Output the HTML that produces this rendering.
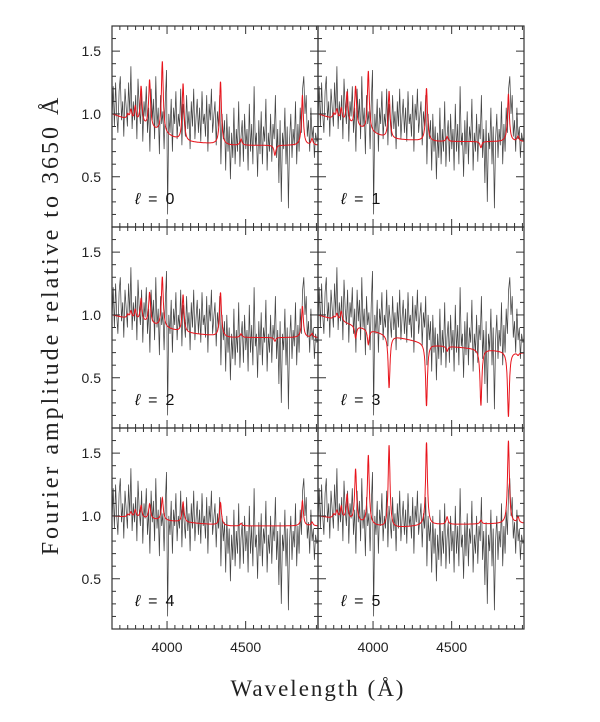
<!DOCTYPE html>
<html><head><meta charset="utf-8"><style>
body{margin:0;background:#fff}
svg text{font-family:"Liberation Sans",sans-serif}
</style></head><body>
<svg id="chart" width="600" height="717" viewBox="0 0 600 717" xmlns="http://www.w3.org/2000/svg">
<text x="0" y="0" transform="translate(58,325) rotate(-90)" text-anchor="middle" style="font-family:'Liberation Serif','DejaVu Serif',serif;font-size:24px;letter-spacing:3px" fill="#222">Fourier amplitude relative to 3650 Å</text>
<text x="318" y="696" text-anchor="middle" style="font-family:'Liberation Serif','DejaVu Serif',serif;font-size:23px;letter-spacing:2px" fill="#222">Wavelength (Å)</text>
<g id="plots"></g>
</svg>
<script>
const spectrum=[0.95,1.22,0.9,1.25,1.0,0.85,1.18,1.3,0.95,1.1,0.82,1.2,1.05,0.9,1.25,1.0,1.38,0.88,1.1,0.95,1.15,0.8,1.28,1.05,0.92,1.2,0.78,1.1,0.98,1.22,0.85,1.05,0.7,1.2,
0.95,1.12,0.8,1.3,0.9,1.05,0.68,1.15,0.92,1.02,0.72,1.1,1.35,0.2,
1.0,0.85,1.12,0.7,1.05,0.92,1.18,0.8,1.0,0.9,1.2,0.75,1.08,0.95,0.82,1.15,0.88,1.02,0.72,1.1,0.9,1.2,0.8,0.98,1.12,0.85,1.05,0.78,1.18,0.92,1.0,0.82,1.15,0.7,1.08,0.95,1.2,0.85,0.98,1.1,0.75,1.02,0.9,1.15,0.6,1.0,
0.8,0.95,0.55,1.0,0.7,0.9,0.48,0.85,0.65,1.05,0.6,0.88,0.7,1.1,0.58,0.82,0.95,0.62,1.0,0.72,0.88,0.55,1.08,0.7,0.92,0.6,1.22,0.75,0.85,0.5,0.95,0.68,1.02,0.6,0.9,0.78,1.12,0.55,0.85,0.7,1.0,0.62,0.92,0.8,1.15,0.65,0.88,0.45,0.95,0.3,0.85,0.72,1.05,0.6,0.9,0.25,0.8,1.0,0.65,0.88,0.75,1.1,0.6,0.92,0.7,1.05,0.85,
1.2,1.3,1.0,1.15,0.82,0.95,0.7,1.05,0.8,0.9,0.65,0.85,0.78,0.82];
const lineCenters=[3750,3770,3798,3835,3889,3970,4102,4340,4471,4686,4861,4922];
const baseL0=[1.0,0.78,0.75,0.75];
const ampL0=[0.04,0.08,0.12,0.3,0.38,0.57,0.46,0.5,0.05,-0.08,0.4,0.05];
const baseL1=[1.0,0.8,0.78,0.78];
const ampL1=[0.04,0.08,0.1,0.25,0.32,0.48,0.38,0.42,0.04,-0.05,0.38,0.04];
const baseL2=[1.0,0.86,0.82,0.82];
const ampL2=[0.03,0.06,0.08,0.18,0.25,0.4,0.3,0.35,0.03,-0.03,0.25,0.03];
const baseL3=[1.0,0.84,0.76,0.7];
const ampL3=[0.02,0.05,0.08,0.0,-0.1,-0.12,-0.42,-0.5,-0.04,-0.45,-0.52,-0.02];
const baseL4=[1.0,0.95,0.92,0.92];
const ampL4=[0.02,0.04,0.06,0.1,0.12,0.18,0.16,0.18,0.02,0.0,0.2,0.03];
const baseL5=[1.0,0.9,0.93,0.94];
const ampL5=[0.03,0.06,0.1,0.2,0.42,0.55,0.66,0.66,0.06,0.03,0.66,0.05];
const panelLabels=["0","1","2","3","4","5"];
const yTicks=[0.5,1.0,1.5];
const xTicks=[4000,4500];
const bases=[baseL0,baseL1,baseL2,baseL3,baseL4,baseL5];
const amps=[ampL0,ampL1,ampL2,ampL3,ampL4,ampL5];

const X0=3650,X1=4960,Y0=0.1,Y1=1.7;
const colL=[112,318],W=206,rowT=[26,227,428],H=201;
const NS="http://www.w3.org/2000/svg";
const g=document.getElementById('plots');
function mk(t,a,p){const e=document.createElementNS(NS,t);for(const k in a)e.setAttribute(k,a[k]);(p||g).appendChild(e);return e;}
function sx(l,c){return colL[c]+(l-X0)/(X1-X0)*W;}
function sy(v,r){return rowT[r]+(Y1-v)/(Y1-Y0)*H;}
function baseAt(b,l){const pts=[3650,4100,4400,4960];for(let i=0;i<3;i++){if(l<=pts[i+1]){const t=(l-pts[i])/(pts[i+1]-pts[i]);return b[i]+t*(b[i+1]-b[i]);}}return b[3];}
function model(p,l){let v=baseAt(bases[p],l);const gm=7;for(let i=0;i<lineCenters.length;i++){const d=(l-lineCenters[i])/gm;v+=amps[p][i]/(1+d*d);}return v;}
const defs=mk('defs',{});
for(let p=0;p<6;p++){
  const c=p%2,r=Math.floor(p/2);
  const cp=mk('clipPath',{id:'cp'+p},defs);
  mk('rect',{x:colL[c],y:rowT[r],width:W,height:H},cp);
  const pg=mk('g',{'clip-path':'url(#cp'+p+')'});
  
  
  let d='';const n=spectrum.length;
  spectrum.forEach((v,i)=>{const l=X0+i*(X1-X0)/(n-1);d+=(i?'L':'M')+sx(l,c).toFixed(1)+','+sy(v,r).toFixed(1);});
  const ob=mk('path',{d:d,fill:'none',stroke:'#444','stroke-width':0.75},pg);
  
  
  let dm='';
  for(let l=X0;l<=X1;l+=1){dm+=(l==X0?'M':'L')+sx(l,c).toFixed(1)+','+sy(model(p,l),r).toFixed(1);}
  const md=mk('path',{d:dm,fill:'none',stroke:'#e8141c','stroke-width':1},pg);
  
  
  const fr=mk('rect',{x:colL[c],y:rowT[r],width:W,height:H,fill:'none',stroke:'#333','stroke-width':1.2});
  
  
  for(let k=2;k<=16;k++){const v=k/10,y=sy(v,r),maj=(k%5==0),len=maj?8:4;
    mk('line',{x1:colL[c],x2:colL[c]+len,y1:y,y2:y,stroke:'#333','stroke-width':1});
    mk('line',{x1:colL[c]+W,x2:colL[c]+W-len,y1:y,y2:y,stroke:'#333','stroke-width':1});}
  for(let l=3700;l<X1;l+=50){const x=sx(l,c),maj=(l%500==0),len=maj?8:4;
    mk('line',{x1:x,x2:x,y1:rowT[r]+H,y2:rowT[r]+H-len,stroke:'#333','stroke-width':1});
    mk('line',{x1:x,x2:x,y1:rowT[r],y2:rowT[r]+len,stroke:'#333','stroke-width':1});}
  const lb=mk('text',{x:colL[c]+23,y:rowT[r]+H-23,'font-size':16,fill:'#111'});
  
  
  const t1=mk('tspan',{'font-style':'italic'},lb);t1.textContent='ℓ';
  const t2=mk('tspan',{dx:8},lb);t2.textContent='=';
  const t3=mk('tspan',{dx:8},lb);t3.textContent=panelLabels[p];
  if(c==0){yTicks.forEach(v=>{const t=mk('text',{x:101,y:sy(v,r)+5,'text-anchor':'end','font-size':14,fill:'#222'});t.textContent=v.toFixed(1);
    
    });}
  if(r==2){xTicks.forEach(v=>{const t=mk('text',{x:sx(v,c),y:652,'text-anchor':'middle','font-size':14,fill:'#222'});t.textContent=v;
    
    });}
}
</script>
</body></html>
